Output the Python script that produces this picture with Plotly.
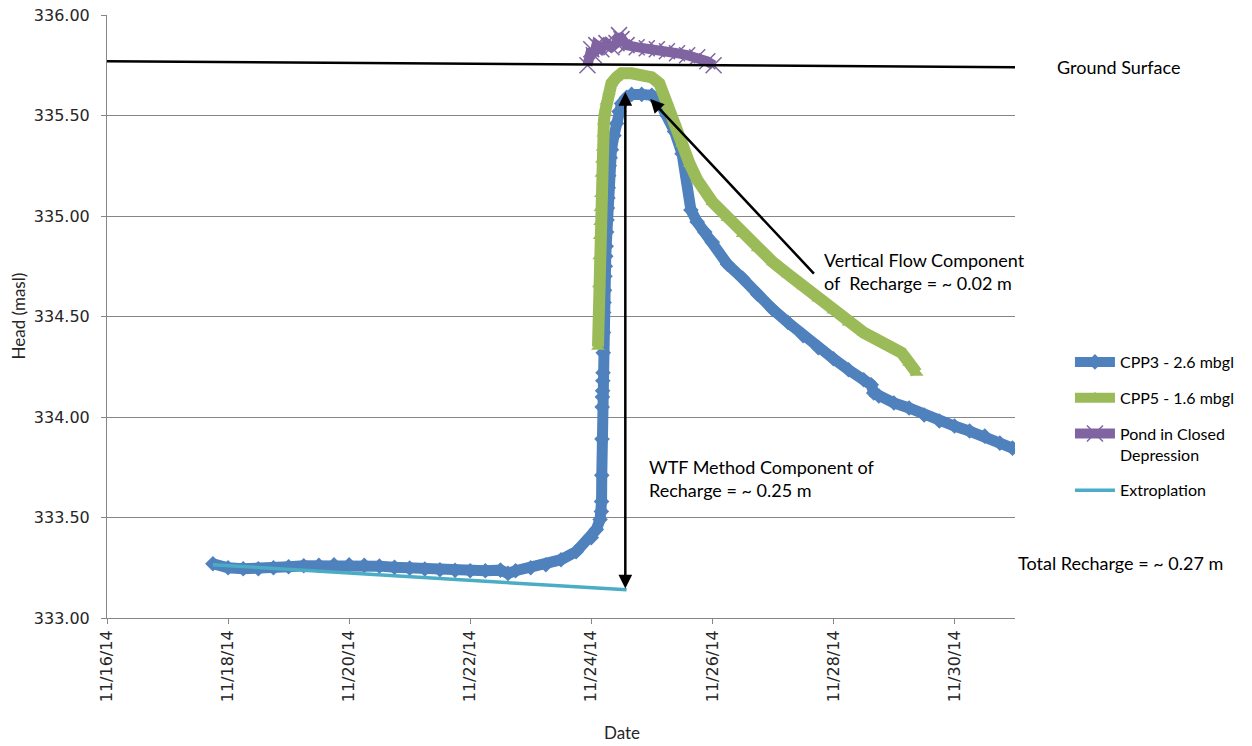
import plotly.graph_objects as go

# ---- CPP3 piezometer (2.6 m below ground) ----
cpp3_time = [
    "2014-11-17 18:00", "2014-11-18 00:00", "2014-11-18 06:00", "2014-11-18 12:00", "2014-11-18 18:00",
    "2014-11-19 00:00", "2014-11-19 06:00", "2014-11-19 12:00", "2014-11-19 18:00",
    "2014-11-20 00:00", "2014-11-20 06:00", "2014-11-20 12:00", "2014-11-20 18:00",
    "2014-11-21 00:00", "2014-11-21 06:00", "2014-11-21 12:00", "2014-11-21 18:00",
    "2014-11-22 00:00", "2014-11-22 06:00", "2014-11-22 12:00", "2014-11-22 15:00", "2014-11-22 18:00",
    "2014-11-23 00:00", "2014-11-23 06:00", "2014-11-23 12:00", "2014-11-23 18:00",
    "2014-11-24 00:00", "2014-11-24 02:00", "2014-11-24 03:30",
    "2014-11-24 04:00", "2014-11-24 04:05", "2014-11-24 04:10", "2014-11-24 04:15", "2014-11-24 04:20",
    "2014-11-24 04:25", "2014-11-24 04:30", "2014-11-24 04:35", "2014-11-24 04:40", "2014-11-24 04:45",
    "2014-11-24 04:50", "2014-11-24 04:55", "2014-11-24 05:05", "2014-11-24 05:15", "2014-11-24 05:25",
    "2014-11-24 05:35", "2014-11-24 05:45", "2014-11-24 05:55", "2014-11-24 06:05", "2014-11-24 06:15",
    "2014-11-24 06:25", "2014-11-24 06:35", "2014-11-24 06:45", "2014-11-24 06:55", "2014-11-24 07:10",
    "2014-11-24 07:30", "2014-11-24 08:00", "2014-11-24 09:00", "2014-11-24 10:00", "2014-11-24 11:00",
    "2014-11-24 12:00", "2014-11-24 14:00", "2014-11-24 16:00", "2014-11-24 20:00",
    "2014-11-25 00:00", "2014-11-25 03:00", "2014-11-25 06:00", "2014-11-25 09:00", "2014-11-25 12:00",
    "2014-11-25 15:30", "2014-11-25 18:00", "2014-11-25 21:00",
    "2014-11-26 00:00", "2014-11-26 06:00", "2014-11-26 12:00", "2014-11-26 18:00",
    "2014-11-27 00:00", "2014-11-27 06:00", "2014-11-27 12:00", "2014-11-27 18:00",
    "2014-11-28 00:00", "2014-11-28 06:00", "2014-11-28 12:00", "2014-11-28 15:00", "2014-11-28 16:00",
    "2014-11-28 18:00", "2014-11-29 00:00", "2014-11-29 06:00", "2014-11-29 12:00", "2014-11-29 18:00",
    "2014-11-30 00:00", "2014-11-30 06:00", "2014-11-30 12:00", "2014-11-30 18:00", "2014-11-30 23:00",
]
cpp3_head = [
    333.27, 333.25, 333.245, 333.245, 333.25,
    333.255, 333.26, 333.262, 333.265,
    333.265, 333.262, 333.258, 333.252,
    333.248, 333.244, 333.24, 333.237,
    333.235, 333.235, 333.238, 333.222, 333.235,
    333.25, 333.265, 333.29, 333.33,
    333.40, 333.44, 333.49,
    333.53, 333.58, 333.71, 333.89, 334.05,
    334.10, 334.13, 334.18, 334.22, 334.32,
    334.42, 334.52, 334.57, 334.63, 334.70,
    334.75, 334.80, 334.85, 334.92, 334.98,
    335.04, 335.09, 335.14, 335.20, 335.25,
    335.29, 335.33, 335.40, 335.46, 335.52,
    335.56, 335.59, 335.605, 335.605,
    335.60, 335.57, 335.50, 335.42, 335.31,
    335.03, 334.97, 334.92,
    334.87, 334.76, 334.69, 334.61,
    334.535, 334.47, 334.405, 334.345,
    334.29, 334.235, 334.185, 334.16, 334.12,
    334.105, 334.07, 334.045, 334.01, 333.98,
    333.955, 333.93, 333.905, 333.87, 333.845,
]

# ---- CPP5 piezometer (1.6 m below ground) ----
cpp5_time = [
    "2014-11-24 02:40", "2014-11-24 03:00", "2014-11-24 03:10", "2014-11-24 03:20", "2014-11-24 03:30",
    "2014-11-24 03:40", "2014-11-24 03:50", "2014-11-24 04:00", "2014-11-24 04:15", "2014-11-24 04:30",
    "2014-11-24 04:45", "2014-11-24 05:00", "2014-11-24 05:30", "2014-11-24 06:00", "2014-11-24 07:00",
    "2014-11-24 08:00", "2014-11-24 10:00", "2014-11-24 12:00", "2014-11-24 16:00", "2014-11-24 20:00",
    "2014-11-25 00:00", "2014-11-25 03:00", "2014-11-25 06:00", "2014-11-25 09:00", "2014-11-25 12:00",
    "2014-11-25 15:00", "2014-11-25 18:00",
    "2014-11-26 00:00", "2014-11-26 06:00", "2014-11-26 12:00", "2014-11-26 18:00",
    "2014-11-27 00:00", "2014-11-27 06:00", "2014-11-27 12:00", "2014-11-27 18:00",
    "2014-11-28 00:00", "2014-11-28 06:00", "2014-11-28 12:00", "2014-11-28 18:00",
    "2014-11-29 00:00", "2014-11-29 03:00", "2014-11-29 06:00", "2014-11-29 09:00",
]
cpp5_head = [
    334.35, 334.66, 334.80, 334.90, 334.97,
    335.04, 335.11, 335.21, 335.28, 335.34,
    335.41, 335.47, 335.52, 335.57, 335.62,
    335.66, 335.69, 335.71, 335.71, 335.70,
    335.69, 335.66, 335.57, 335.47, 335.36,
    335.26, 335.18,
    335.07, 334.99, 334.91, 334.84,
    334.77, 334.71, 334.65, 334.59,
    334.53, 334.47, 334.42, 334.38,
    334.34, 334.32, 334.27, 334.22,
]

# ---- Pond stage in the closed depression ----
pond_time = [
    "2014-11-23 22:30", "2014-11-24 00:00", "2014-11-24 01:00", "2014-11-24 02:00", "2014-11-24 04:00",
    "2014-11-24 06:00", "2014-11-24 08:00", "2014-11-24 10:00", "2014-11-24 11:00", "2014-11-24 12:00",
    "2014-11-24 14:00", "2014-11-24 18:00", "2014-11-24 22:00", "2014-11-25 02:00", "2014-11-25 06:00",
    "2014-11-25 10:00", "2014-11-25 14:00", "2014-11-25 18:00", "2014-11-25 22:00", "2014-11-26 00:30",
]
pond_head = [
    335.75, 335.83, 335.80, 335.85, 335.83,
    335.86, 335.84, 335.86, 335.90, 335.88,
    335.85, 335.84, 335.835, 335.83, 335.82,
    335.81, 335.80, 335.79, 335.77, 335.75,
]

# ---- Extrapolated pre-event recession ----
extrap_time = ["2014-11-17 18:00", "2014-11-24 14:00"]
extrap_head = [333.265, 333.14]

# ---- Ground surface elevation ----
ground_time = ["2014-11-16 00:00", "2014-12-01 00:00"]
ground_head = [335.77, 335.74]

# ---- Annotation anchors ----
wtf_arrow_time = "2014-11-24 13:30"
wtf_arrow_top, wtf_arrow_bottom = 335.617, 333.139
vf_head_time, vf_head_val = "2014-11-24 23:24", 335.582
vf_tail_time, vf_tail_val = "2014-11-27 16:50", 334.706

BLUE, GREEN, PURPLE, CYAN = "#4F81BD", "#9BBB59", "#8064A2", "#4BACC6"
TXT = "Lato, Calibri, sans-serif"
TICK = "DejaVu Sans, Tahoma, sans-serif"

fig = go.Figure()

fig.add_trace(go.Scatter(
    x=cpp3_time, y=cpp3_head, name="CPP3 - 2.6 mbgl", mode="lines+markers",
    line=dict(color=BLUE, width=11), marker=dict(symbol="diamond", size=12, color=BLUE),
    legendgroup="a",
))
fig.add_trace(go.Scatter(
    x=cpp5_time, y=cpp5_head, name="CPP5 - 1.6 mbgl", mode="lines+markers",
    line=dict(color=GREEN, width=12), marker=dict(symbol="triangle-up", size=12, color=GREEN),
    legendgroup="b",
))
fig.add_trace(go.Scatter(
    x=pond_time, y=pond_head, name="Pond in Closed<br>Depression", mode="lines+markers",
    line=dict(color=PURPLE, width=10),
    marker=dict(symbol="x-thin-open", size=16, color=PURPLE, line=dict(color=PURPLE, width=1.5)),
    legendgroup="c",
))
fig.add_trace(go.Scatter(
    x=extrap_time, y=extrap_head, name="Extroplation", mode="lines",
    line=dict(color=CYAN, width=3.5), legendgroup="d",
))
fig.add_trace(go.Scatter(
    x=ground_time, y=ground_head, name="Ground Surface", mode="lines",
    line=dict(color="black", width=2.5), showlegend=False,
))

note_font = dict(family=TXT, size=18, color="black")
annotations = [
    # WTF rise: double-headed vertical arrow
    dict(x=wtf_arrow_time, y=wtf_arrow_top, ax=wtf_arrow_time, ay=wtf_arrow_bottom,
         xref="x", yref="y", axref="x", ayref="y", text="", showarrow=True,
         arrowhead=2, arrowside="end+start", arrowsize=1.1, arrowwidth=2.5, arrowcolor="black"),
    # vertical flow component pointer
    dict(x=vf_head_time, y=vf_head_val, ax=vf_tail_time, ay=vf_tail_val,
         xref="x", yref="y", axref="x", ayref="y", text="", showarrow=True,
         arrowhead=2, arrowsize=1.1, arrowwidth=2.5, arrowcolor="black"),
    dict(x=1.044, y=0.914, xref="paper", yref="paper", xanchor="left", yanchor="middle",
         text="Ground Surface", showarrow=False, align="left", font=note_font),
    dict(x=0.787, y=0.575, xref="paper", yref="paper", xanchor="left", yanchor="middle",
         text="Vertical Flow Component<br>of  Recharge = ~ 0.02 m", showarrow=False, align="left",
         font=note_font),
    dict(x=0.595, y=0.232, xref="paper", yref="paper", xanchor="left", yanchor="middle",
         text="WTF Method Component of<br>Recharge = ~ 0.25 m", showarrow=False, align="left",
         font=note_font),
    dict(x=1.001, y=0.091, xref="paper", yref="paper", xanchor="left", yanchor="middle",
         text="Total Recharge = ~ 0.27 m", showarrow=False, align="left", font=note_font),
    # axis titles
    dict(x=0.567, y=-0.1907, xref="paper", yref="paper", xanchor="center", yanchor="middle",
         text="Date", showarrow=False, font=dict(family=TXT, size=17, color="#262626")),
    dict(x=-0.098, y=0.5, xref="paper", yref="paper", xanchor="center", yanchor="middle",
         text="Head (masl)", textangle=-90, showarrow=False,
         font=dict(family=TXT, size=17, color="#262626")),
]

fig.update_layout(
    width=1252, height=746,
    margin=dict(l=107, r=237, t=15, b=128, autoexpand=False),
    paper_bgcolor="white", plot_bgcolor="white",
    annotations=annotations,
    legend=dict(
        xref="container", yref="container",
        x=0.8546, y=0.5375, xanchor="left", yanchor="top",
        font=dict(family=TXT, size=16, color="black"),
        itemwidth=40, tracegroupgap=12, valign="top",
        bgcolor="rgba(0,0,0,0)",
    ),
    xaxis=dict(
        type="date", range=["2014-11-16", "2014-12-01"], automargin=False,
        tick0="2014-11-16", dtick=2 * 86400000, tickformat="%m/%d/%y", tickangle=-90,
        showgrid=False, showline=True, linecolor="#868686", linewidth=1,
        ticks="outside", ticklen=5, tickcolor="#868686",
        tickfont=dict(family=TICK, size=16, color="#262626"),
        zeroline=False,
    ),
    yaxis=dict(
        range=[333.0, 336.0], dtick=0.5, tickformat=".2f", automargin=False,
        showgrid=True, gridcolor="#868686", gridwidth=1,
        showline=True, linecolor="#868686", linewidth=1,
        ticks="outside", ticklen=5, tickcolor="#868686", ticklabelstandoff=8,
        tickfont=dict(family=TICK, size=16, color="#262626"),
        zeroline=False,
    ),
)

fig.write_html("out.html")
